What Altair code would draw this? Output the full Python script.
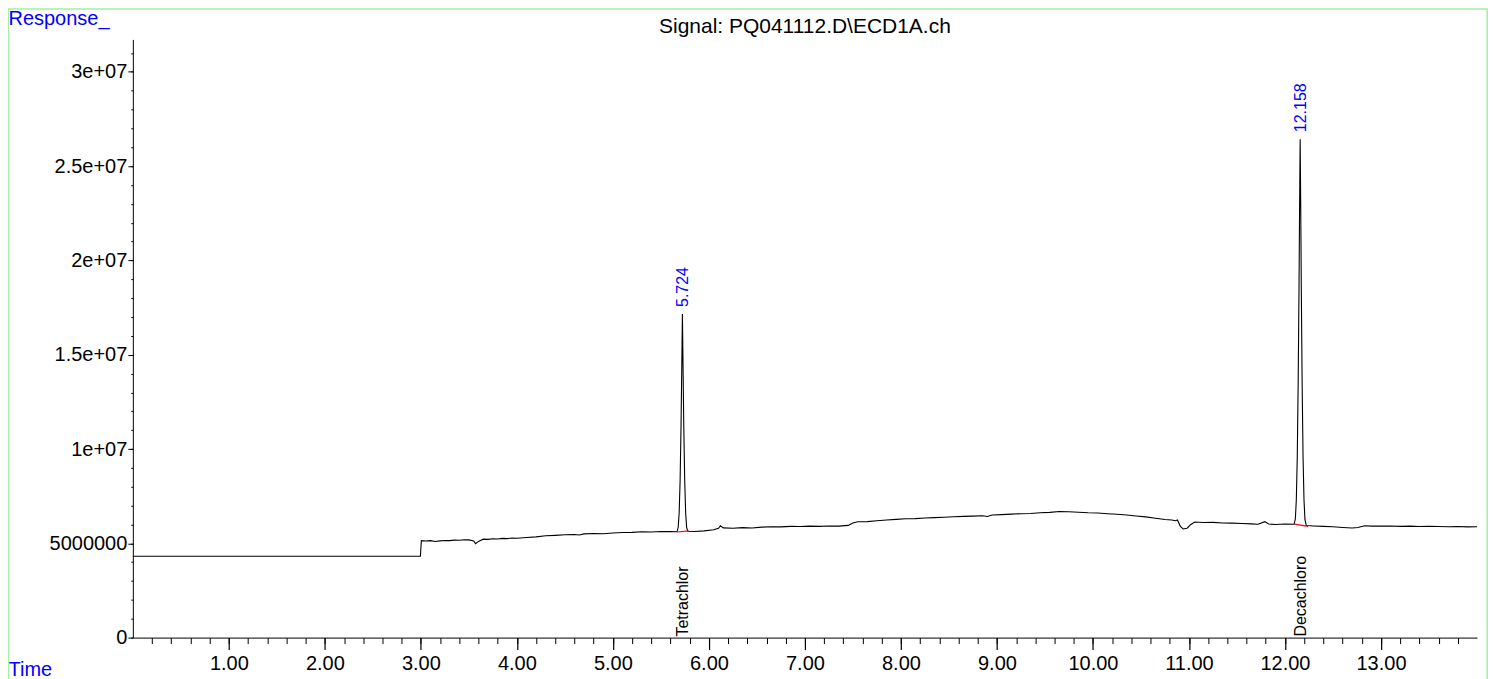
import altair as alt
import pandas as pd

FONT = "Liberation Sans"

# ---- chromatogram trace (time in min, response in millions) ----
time_min = [
    0.00, 2.995, 3.005, 3.05, 3.10, 3.15, 3.20, 3.25, 3.30, 3.35, 3.40, 3.45, 3.50, 3.55, 3.57, 3.60,
    3.65, 3.70, 3.75, 3.80, 3.85, 3.90, 3.95, 4.00, 4.10, 4.20, 4.30, 4.40, 4.50, 4.60, 4.65,
    4.70, 4.80, 4.90, 5.00, 5.10, 5.20, 5.30, 5.40, 5.50, 5.60,
    5.668, 5.680, 5.690, 5.700, 5.710, 5.718, 5.724, 5.730, 5.738, 5.748, 5.758, 5.768, 5.780,
    5.85, 5.95, 6.05, 6.10, 6.12, 6.15, 6.25, 6.35, 6.45, 6.55, 6.65, 6.75, 6.85, 6.95,
    7.05, 7.15, 7.25, 7.35, 7.45, 7.50, 7.55, 7.65, 7.75, 7.85, 7.95, 8.05, 8.15, 8.25,
    8.35, 8.45, 8.55, 8.65, 8.75, 8.85, 8.90, 8.95, 9.05, 9.15, 9.25, 9.35, 9.45, 9.55,
    9.65, 9.75, 9.85, 9.95, 10.05, 10.15, 10.25, 10.35, 10.45, 10.55, 10.65, 10.75, 10.82,
    10.86, 10.88, 10.91, 10.94, 10.98, 11.02, 11.06, 11.15, 11.25, 11.35, 11.45, 11.55,
    11.65, 11.72, 11.79, 11.83, 11.90, 12.00,
    12.095, 12.108, 12.118, 12.128, 12.138, 12.146, 12.152, 12.158, 12.164, 12.170, 12.178,
    12.188, 12.198, 12.208, 12.222,
    12.30, 12.40, 12.50, 12.60, 12.70, 12.76, 12.83, 12.90, 13.00, 13.10, 13.20, 13.30,
    13.40, 13.50, 13.60, 13.70, 13.80, 13.90, 14.00,
]
response_mil = [
    4.31, 4.31, 5.14, 5.12, 5.14, 5.10, 5.13, 5.15, 5.14, 5.17, 5.16, 5.19, 5.18, 5.12, 4.98, 5.10,
    5.22, 5.21, 5.24, 5.23, 5.26, 5.25, 5.28, 5.27, 5.31, 5.34, 5.40, 5.42, 5.45, 5.47, 5.44,
    5.50, 5.52, 5.51, 5.55, 5.57, 5.58, 5.61, 5.60, 5.63, 5.62,
    5.61, 5.85, 6.60, 8.30, 11.30, 14.60, 17.16, 14.60, 11.30, 8.30, 6.60, 5.85, 5.64,
    5.63, 5.66, 5.72, 5.80, 5.93, 5.82, 5.80, 5.83, 5.81, 5.86, 5.88, 5.87, 5.90, 5.89,
    5.91, 5.90, 5.92, 5.91, 5.95, 6.08, 6.14, 6.15, 6.20, 6.24, 6.27, 6.30, 6.31, 6.34,
    6.36, 6.38, 6.41, 6.43, 6.44, 6.46, 6.42, 6.50, 6.52, 6.55, 6.57, 6.58, 6.62, 6.64,
    6.69, 6.67, 6.65, 6.62, 6.61, 6.57, 6.54, 6.50, 6.45, 6.40, 6.33, 6.26, 6.24,
    6.20, 6.24, 5.90, 5.76, 5.80, 6.00, 6.13, 6.10, 6.11, 6.08, 6.07, 6.05,
    6.03, 6.01, 6.15, 6.02, 6.00, 6.02,
    6.01, 6.30, 7.30, 9.60, 13.80, 18.50, 22.80, 26.43, 22.80, 18.50, 13.80,
    9.60, 7.30, 6.25, 5.94,
    5.92, 5.90, 5.88, 5.84, 5.81, 5.84, 5.93, 5.91, 5.91, 5.92, 5.90, 5.91,
    5.89, 5.90, 5.89, 5.88, 5.89, 5.87, 5.88,
]

# ---- integrated peaks ----
peak_rt = [5.724, 12.158]
peak_apex_mil = [17.16, 26.43]
peak_rt_label = ["5.724", "12.158"]
compound_names = ["Tetrachlor", "Decachloro"]

# red integration baselines
base_peak = ["Tetrachlor", "Tetrachlor", "Decachloro", "Decachloro"]
base_time = [5.671, 5.790, 12.100, 12.240]
base_resp_mil = [5.60, 5.66, 6.02, 5.90]

# ---- axes ----
x_major = [1, 2, 3, 4, 5, 6, 7, 8, 9, 10, 11, 12, 13]
x_minor = [round(0.2 * i, 1) for i in range(1, 70)]
y_major = [0, 5, 10, 15, 20, 25, 30]
y_major_labels = ["0", "5000000", "1e+07", "1.5e+07", "2e+07", "2.5e+07", "3e+07"]
y_minor = list(range(0, 32))

title_text = "Signal: PQ041112.D\\ECD1A.ch"

trace = pd.DataFrame({"time": time_min, "resp": response_mil})
peaks = pd.DataFrame({"rt": peak_rt, "apex": peak_apex_mil,
                      "label": peak_rt_label, "name": compound_names})
bases = pd.DataFrame({"peak": base_peak, "time": base_time, "resp": base_resp_mil})

label_expr = ""
for v, lab in zip(y_major, y_major_labels):
    label_expr += f"datum.value == {v} ? '{lab}' : "
label_expr += "''"

xs = alt.Scale(domain=[0, 14.0], nice=False, zero=False)
ys = alt.Scale(domain=[0, 31.72], nice=False, zero=False)

common_axis = dict(labelFont=FONT, labelColor="black", tickColor="black",
                   domainColor="black", grid=False, titleFont=FONT)

line = alt.Chart(trace).mark_line(color="black", strokeWidth=1.1).encode(
    x=alt.X("time:Q", scale=xs, axis=alt.Axis(
        orient="bottom", values=x_major, format=".2f", tickSize=12, tickWidth=1.2,
        labelFontSize=20, labelPadding=4, labelFlush=False,
        title="Time", titleX=-125, titleY=38, titleAngle=0, titleAlign="left",
        titleBaseline="alphabetic", titleColor="blue", titleFontSize=20,
        titleFontWeight="normal", **common_axis)),
    y=alt.Y("resp:Q", scale=ys, axis=alt.Axis(
        orient="left", values=y_major, labelExpr=label_expr, tickSize=5,
        labelFontSize=20, labelPadding=1, labelFlush=False,
        title="Response_", titleX=-125, titleY=-15, titleAngle=0, titleAlign="left",
        titleBaseline="alphabetic", titleColor="blue", titleFontSize=20,
        titleFontWeight="normal", **common_axis)),
)

red = alt.Chart(bases).mark_line(color="red", strokeWidth=1.2).encode(
    x=alt.X("time:Q", scale=xs, axis=alt.Axis(
        orient="bottom", values=x_minor, labels=False, domain=False, tickSize=6,
        title=None, **common_axis)),
    y=alt.Y("resp:Q", scale=ys, axis=alt.Axis(
        orient="left", values=y_minor, labels=False, domain=False, tickSize=2,
        title=None, **common_axis)),
    detail="peak:N",
)

rt_text = alt.Chart(peaks).mark_text(
    angle=270, align="left", baseline="middle", dx=7, dy=1, fontSize=16,
    font=FONT, color="blue").encode(
    x=alt.X("rt:Q", scale=xs, axis=None),
    y=alt.Y("apex:Q", scale=ys, axis=None),
    text="label:N",
)

name_text = alt.Chart(peaks).mark_text(
    angle=270, align="left", baseline="middle", dx=1, dy=1, fontSize=16,
    font=FONT, color="black").encode(
    x=alt.X("rt:Q", scale=xs, axis=None),
    y=alt.Y("zero:Q", scale=ys, axis=None),
    text="name:N",
).transform_calculate(zero="0")

title_mark = alt.Chart(pd.DataFrame({"t": [title_text]})).mark_text(
    align="center", baseline="alphabetic", fontSize=21, font=FONT, color="black").encode(
    x=alt.value(673), y=alt.value(-6), text="t:N")

frame = alt.Chart(pd.DataFrame({"a": [0]})).mark_rect(
    fillOpacity=0, stroke="#a4f0a4", strokeWidth=1.5).encode(
    x=alt.value(-124.5), x2=alt.value(1356.2), y=alt.value(-30.5), y2=alt.value(700))

chart = alt.layer(frame, line, red, rt_text, name_text, title_mark).resolve_scale(
    x="independent", y="independent"
).properties(
    width=1346, height=599,
    padding={"left": 125, "top": 31, "right": 11, "bottom": 41},
    autosize=alt.AutoSizeParams(type="none"),
).configure_view(strokeWidth=0)

chart.save("out.html", embed_options={"renderer": "svg", "actions": False})
